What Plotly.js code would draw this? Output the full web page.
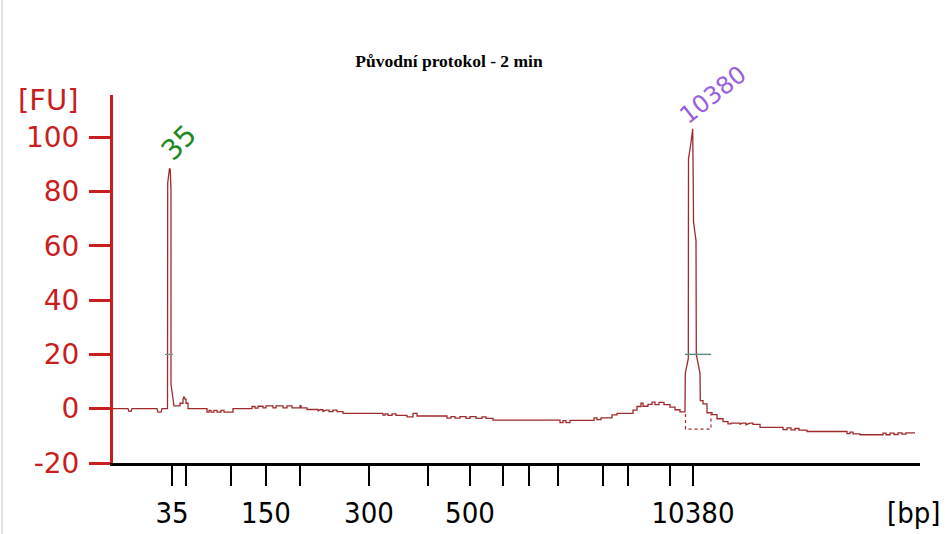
<!DOCTYPE html>
<html>
<head>
<meta charset="utf-8">
<script src="https://cdn.plot.ly/plotly-3.0.1.min.js"></script>
<style>html,body{margin:0;padding:0;background:#fff;}#chart{width:950px;height:534px;}</style>
</head>
<body>
<div id="chart"></div>
<script>
// Electropherogram trace: migration position (time units) and fluorescence [FU]
const traceTime = [113,128,129,131,132,157,158,161,162,167.5,
  167.7,169.5,170.3,171,171,172.5,174,180,180,183,183,184,185,186,186,188,188,
  207,207,209,209,211,211,214,214,217,217,221,221,224,224,233,233,252,252,255,255,258,258,263,263,266,266,273,273,276,276,283,283,287,287,292,292,300,300,301,301,307,307,318,318,320,323,323,326,329,329,333,333,337,337,343,343,383,383,385,385,388,388,392,392,396,396,407,407,413,413,417,417,447,447,451,451,455,455,460,460,466,466,470,470,476,476,482,482,486,486,493,493,560,560,563,563,566,566,570,570,594,594,597,597,601,601,612,612,617,617,633,633,637,637,641,641,643,643,648,648,652,652,655,655,659,659,664,664,670,670,675,675,680,680,685,
  685.3,688.3,688.5,691,692.7,693.2,693.5,694.5,696,696.3,700,700.3,703,703,707,707,712,712,717,717,723,723,728,728,731,731,740,740,742,746,746,750,753,753,760,760,783,783,787,787,791,791,795,795,799,799,807,807,847,847,850,850,853,853,860,860,883,883,886,886,890,890,894,894,898,898,902,902,906,906,915];
const traceFU = [0,0,-1,-1,0,0,-1.3,-1.3,0,0,
  83,88.5,88,80,9,4,1,1,2,2,3.5,4.5,3.5,3.5,2,2,0,
  0,-1.3,-1.3,-0.6,-0.6,-1.3,-1.3,-0.6,-0.6,-1.3,-1.3,-0.6,-0.6,-1.3,-1.3,0,0,0.8,0.8,0.2,0.2,0.9,0.9,0.3,0.3,1,1,0.3,0.3,1,1,0.3,0.3,1,1,0.3,0.3,1.1,1.1,0.3,0.3,-0.3,-0.3,-0.9,-0.4,-0.4,-1,-0.5,-0.5,-1.1,-1.1,-0.5,-0.5,-1.1,-1.1,-1.7,-1.7,-2.4,-2.4,-1.9,-1.9,-2.5,-2.5,-1.9,-1.9,-2.5,-2.5,-3,-3,-1.7,-1.7,-2.7,-2.7,-3.5,-3.5,-2.9,-2.9,-3.5,-3.5,-2.9,-2.9,-3.6,-3.6,-2.9,-2.9,-3.6,-3.6,-3,-3,-3.6,-3.6,-4.2,-4.2,-5.1,-5.1,-4.4,-4.4,-5.1,-5.1,-4.3,-4.3,-3.4,-3.4,-4,-4,-3.4,-3.4,-2.3,-2.3,-1.7,-1.7,-0.5,-0.5,0.8,0.8,2,2,0.9,0.9,1.6,1.6,2.4,2.4,1.5,1.5,2.3,2.3,1.5,1.5,0.6,0.6,-0.4,-0.4,-1.2,-1.2,
  13,18.5,92,98,103,85,69,66,62,20,13,3,3,1.8,1.8,-1.5,-1.5,-2.2,-2.2,-3.7,-3.7,-4.8,-4.8,-5.6,-5.6,-5.3,-5.3,-5.8,-5.3,-5.3,-5.9,-5.3,-5.3,-5.8,-5.8,-6.9,-6.9,-7.7,-7.7,-7.1,-7.1,-7.8,-7.8,-7.3,-7.3,-7.9,-7.9,-8.4,-8.4,-9.2,-9.2,-8.6,-8.6,-9.3,-9.3,-9.6,-9.6,-9,-9,-9.6,-9.6,-9,-9,-9.5,-9.5,-8.9,-8.9,-9.4,-9.4,-8.9,-8.9];

// Peak integration baseline (dotted) under the 10380 bp peak
const baselineTime = [685.5,685.5,711,711];
const baselineFU = [-2,-7.5,-7.5,-2];

// Half-height markers of the two peaks
const halfMarkA_Time = [165,173];
const halfMarkB_Time = [685,711];
const halfMarkFU = [20,20];

// Ladder: positions on the time axis and sizes in bp
const ladderTime = [172,186,231,266,300,369,428,470,503,529,558,603,628,670,693];
const ladderBp = [35,50,100,150,200,300,400,500,600,700,1000,2000,3000,7000,10380];
const labeledBp = [35,150,300,500,10380];

// Y axis ticks
const yTicks = [-20,0,20,40,60,80,100];

// Peak labels
const peakLabels = ['35','10380'];
const peakLabelTime = [179,713];
const peakLabelFU = [98,115.5];

const red = '#c81e1e';
const traceColor = '#9e2a2b';

const yMin = -20, yMax = 115.5, xMin = 113, xMax = 920;
const px = t => (t - xMin) / (xMax - xMin);
const py = v => (v - yMin) / (yMax - yMin);

const data = [
  {x: traceTime, y: traceFU, type:'scatter', mode:'lines', line:{color:traceColor, width:1.3}, hoverinfo:'skip'},
  {x: baselineTime, y: baselineFU, type:'scatter', mode:'lines', line:{color:traceColor, width:1.2, dash:'dot'}, hoverinfo:'skip'},
  {x: halfMarkA_Time, y: halfMarkFU, type:'scatter', mode:'lines', line:{color:'#6a8f86', width:1.2}, hoverinfo:'skip'},
  {x: halfMarkB_Time, y: halfMarkFU, type:'scatter', mode:'lines', line:{color:'#5a8a80', width:1.4}, hoverinfo:'skip'}
];

const layout = {
  width: 950, height: 534,
  margin: {l:113, r:30, t:95, b:71},
  paper_bgcolor:'#ffffff', plot_bgcolor:'#ffffff',
  showlegend:false,
  title: {text:'<b>Původní protokol - 2 min</b>', font:{family:'Liberation Serif, serif', size:17.5, color:'#000'},
          x: 449/950, xref:'container', xanchor:'center', y: 1-61/534, yref:'container', yanchor:'middle'},
  xaxis: {
    range:[xMin,xMax], showgrid:false, zeroline:false,
    showline:true, linecolor:'#000', linewidth:3,
    ticks:'outside', ticklen:20, tickwidth:2.5, tickcolor:'#000',
    tickvals: ladderTime,
    ticktext: ladderBp.map(v => labeledBp.includes(v) ? String(v) : ''),
    tickfont:{family:'DejaVu Sans Condensed, sans-serif', size:29, color:'#000'},
    ticklabelstandoff: 2
  },
  yaxis: {
    range:[yMin,yMax], showgrid:false, zeroline:false,
    showline:true, linecolor:red, linewidth:3,
    ticks:'outside', ticklen:21, tickwidth:3, tickcolor:red,
    tickvals: yTicks, ticktext: yTicks.map(String),
    tickfont:{family:'DejaVu Sans, Verdana, sans-serif', size:28, color:red},
    ticklabelstandoff: 4
  },
  annotations: [
    {text:'[FU]', xref:'paper', yref:'paper', x:(48-113)/807, y:1+(95-100)/368, xanchor:'center', yanchor:'middle', showarrow:false,
     font:{family:'DejaVu Sans, Verdana, sans-serif', size:29, color:red}},
    {text:'[bp]', xref:'paper', yref:'paper', x:(914-113)/807, y:-(513-463)/368, xanchor:'center', yanchor:'middle', showarrow:false,
     font:{family:'DejaVu Sans Condensed, sans-serif', size:29, color:'#000'}},
    {text:peakLabels[0], x:px(peakLabelTime[0]), y:py(peakLabelFU[0]), xref:'paper', yref:'paper', xanchor:'center', yanchor:'middle', showarrow:false, textangle:-45,
     font:{family:'DejaVu Sans, Verdana, sans-serif', size:28, color:'#1c8a1c'}},
    {text:peakLabels[1], x:px(peakLabelTime[1]), y:py(peakLabelFU[1]), xref:'paper', yref:'paper', xanchor:'center', yanchor:'middle', showarrow:false, textangle:-38,
     font:{family:'DejaVu Sans, Verdana, sans-serif', size:24, color:'#9a5fdc'}}
  ],
  shapes: [
    {type:'line', xref:'paper', yref:'paper', x0:(2-113)/807, x1:(2-113)/807, y0:-71/368, y1:1+95/368, line:{color:'#c8c8c8', width:1}}
  ]
};

Plotly.newPlot('chart', data, layout, {staticPlot:true, displayModeBar:false});
</script>
</body>
</html>
